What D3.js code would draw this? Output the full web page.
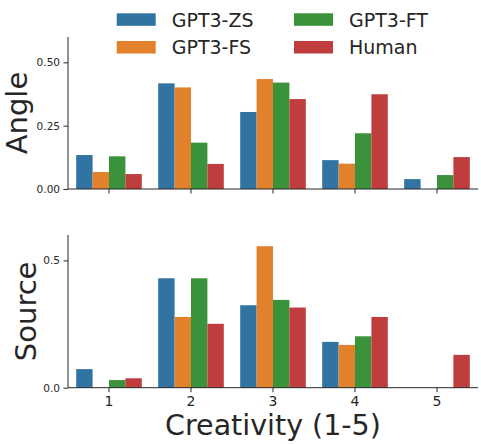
<!DOCTYPE html>
<html>
<head>
<meta charset="utf-8">
<script src="https://cdn.jsdelivr.net/npm/d3@7"></script>
<style>
  body { margin: 0; background: #fff; }
  text { font-family: "DejaVu Sans", sans-serif; fill: #262626; }
</style>
</head>
<body>
<div class="chart"></div>
<script>
// categories and series
const creativity = ["1", "2", "3", "4", "5"];
const models = ["GPT3-ZS", "GPT3-FS", "GPT3-FT", "Human"];
const colors = ["#3274a1", "#e1812c", "#3a923a", "#c03d3e"];

// Angle panel
const angleZS = [0.134, 0.417, 0.304, 0.114, 0.039];
const angleFS = [0.067, 0.401, 0.434, 0.100, 0.0];
const angleFT = [0.129, 0.183, 0.420, 0.220, 0.055];
const angleHuman = [0.059, 0.099, 0.355, 0.374, 0.126];

// Source panel
const sourceZS = [0.073, 0.430, 0.324, 0.180, 0.0];
const sourceFS = [0.0, 0.278, 0.556, 0.168, 0.0];
const sourceFT = [0.030, 0.430, 0.345, 0.202, 0.0];
const sourceHuman = [0.037, 0.251, 0.315, 0.278, 0.129];

const angleTicks = [0, 0.25, 0.5];
const sourceTicks = [0, 0.5];

const W = 481, H = 444;
const svg = d3.select(".chart").append("svg")
  .attr("width", W)
  .attr("height", H);

const x = d3.scaleBand()
  .domain(creativity)
  .range([68, 478])
  .paddingInner(0.2)
  .paddingOuter(0.1);

const xHue = d3.scaleBand()
  .domain(models)
  .range([0, x.bandwidth()]);

const color = d3.scaleOrdinal().domain(models).range(colors);

function drawPanel(opt) {
  const y = d3.scaleLinear().domain([0, 0.6]).range([opt.bottom, opt.top]);
  const g = svg.append("g");

  const rows = [];
  models.forEach((m, mi) => {
    opt.series[mi].forEach((v, ci) => rows.push({ model: m, cat: creativity[ci], value: v }));
  });

  g.selectAll("rect")
    .data(rows)
    .enter()
    .append("rect")
    .attr("x", d => x(d.cat) + xHue(d.model))
    .attr("y", d => y(d.value))
    .attr("width", xHue.bandwidth())
    .attr("height", d => y(0) - y(d.value))
    .attr("fill", d => color(d.model));

  // y axis
  const yAxis = g.append("g")
    .attr("transform", "translate(68,0)")
    .call(d3.axisLeft(y).tickValues(opt.ticks).tickFormat(d3.format(opt.fmt)).tickSize(4.5).tickPadding(3.5));
  yAxis.select(".domain").attr("stroke", "#262626").attr("d", `M0,${opt.top}V${opt.bottom}`);
  yAxis.selectAll(".tick line").attr("stroke", "#262626");
  yAxis.selectAll(".tick text").style("font-size", "10.5px").attr("fill", "#262626");

  // x axis
  const xAxis = g.append("g")
    .attr("transform", `translate(0,${opt.bottom})`)
    .call(d3.axisBottom(x).tickSize(4.5).tickPadding(4).tickFormat(opt.xLabels ? null : ""));
  xAxis.select(".domain").attr("stroke", "#262626").attr("d", "M68,0H478");
  xAxis.selectAll(".tick line").attr("stroke", "#262626");
  xAxis.selectAll(".tick text").style("font-size", "14px").attr("fill", "#262626");

  // y label
  svg.append("text")
    .attr("transform", `translate(${opt.labelX},${(opt.top + opt.bottom) / 2}) rotate(-90)`)
    .attr("text-anchor", "middle")
    .style("font-size", "29px")
    .text(opt.label);
}

drawPanel({
  top: 37, bottom: 189,
  series: [angleZS, angleFS, angleFT, angleHuman],
  ticks: angleTicks, fmt: ".2f",
  label: "Angle", labelX: 27, xLabels: false
});

drawPanel({
  top: 235, bottom: 387.7,
  series: [sourceZS, sourceFS, sourceFT, sourceHuman],
  ticks: sourceTicks, fmt: ".1f",
  label: "Source", labelX: 36, xLabels: true
});

// x label
svg.append("text")
  .attr("x", 273)
  .attr("y", 435)
  .attr("text-anchor", "middle")
  .style("font-size", "28.5px")
  .text("Creativity (1-5)");

// legend, two columns
const legendPos = [
  { x: 116.7, y: 13.3 },
  { x: 116.7, y: 41 },
  { x: 294, y: 13.3 },
  { x: 294, y: 41 }
];
const legend = svg.append("g")
  .selectAll("g")
  .data(models)
  .enter()
  .append("g")
  .attr("transform", (d, i) => `translate(${legendPos[i].x},${legendPos[i].y})`);

legend.append("rect")
  .attr("width", 39)
  .attr("height", 12.5)
  .attr("fill", d => color(d));

legend.append("text")
  .attr("x", 55)
  .attr("y", 13.3)
  .style("font-size", "19px")
  .text(d => d);
</script>
</body>
</html>
